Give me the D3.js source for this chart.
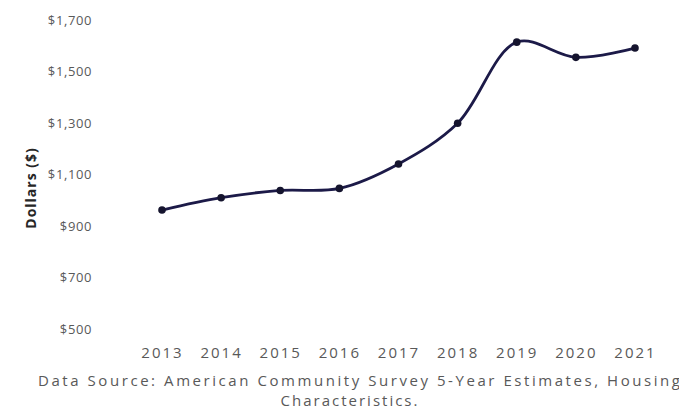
<!DOCTYPE html>
<html>
<head>
<meta charset="utf-8">
<script src="https://cdn.jsdelivr.net/npm/d3@7"></script>
<style>
	body { margin: 0; background: #fff; }
	svg { display: block; }
	.tick text { font-family: "Open Sans", sans-serif; fill: #595959; }
</style>
</head>
<body>
<svg id="chart" width="679" height="419"></svg>
<script>
// rent by year
var years = ["2013", "2014", "2015", "2016", "2017", "2018", "2019", "2020", "2021"];
var rent = [962, 1010, 1038, 1046, 1141, 1299, 1614, 1555, 1591];
var yTicks = [500, 700, 900, 1100, 1300, 1500, 1700];
var sourceLines = ["Data Source: American Community Survey 5-Year Estimates, Housing", "Characteristics."];

var margin = {top: 20, right: 44, bottom: 90, left: 162},
	width = 679, height = 419;

var svg = d3.select("#chart");

var x = d3.scalePoint()
		  .domain(years)
		  .range([margin.left, width - margin.right]);
var y = d3.scaleLinear()
		  .domain([500, 1700])
		  .range([height - margin.bottom, margin.top]);

// y axis labels, no line
var yAxis = svg.append("g")
	.attr("transform", "translate(92,0)")
	.call(d3.axisLeft(y).tickValues(yTicks).tickSize(0).tickPadding(0).tickFormat(d3.format("$,")));
yAxis.select(".domain").remove();
yAxis.selectAll("text")
	.style("font-size", "13px")
	.style("letter-spacing", "0.6px");

// x axis labels
var xAxis = svg.append("g")
	.attr("transform", "translate(0," + (height - margin.bottom + 18) + ")")
	.call(d3.axisBottom(x).tickSize(0).tickPadding(0));
xAxis.select(".domain").remove();
xAxis.selectAll("text")
	.style("font-size", "15px")
	.style("letter-spacing", "2px");

// axis title
svg.append("text")
	.attr("transform", "translate(36,188) rotate(-90)")
	.style("text-anchor", "middle")
	.style("font-family", "'Open Sans', sans-serif")
	.style("font-weight", "bold")
	.style("font-size", "14px")
	.style("letter-spacing", "1px")
	.style("fill", "#262626")
	.text("Dollars ($)");

// the line
var line = d3.line()
	.x(function(d, i) { return x(years[i]); })
	.y(function(d) { return y(d); })
	.curve(d3.curveCatmullRom.alpha(0.5));

svg.append("path")
	.datum(rent)
	.attr("fill", "none")
	.attr("stroke", "#1c1a48")
	.attr("stroke-width", 2.8)
	.attr("d", line);

svg.selectAll(".dot")
	.data(rent)
	.enter().append("circle")
	.attr("class", "dot")
	.attr("cx", function(d, i) { return x(years[i]); })
	.attr("cy", function(d) { return y(d); })
	.attr("r", 3.8)
	.attr("fill", "#15142e");

// source note, first line runs off the right edge like the original
var src = svg.selectAll(".source")
	.data(sourceLines)
	.enter().append("text")
	.attr("class", "source")
	.attr("y", function(d, i) { return 386 + i * 20; })
	.style("font-family", "'Open Sans', sans-serif")
	.style("font-size", "15px")
	.style("fill", "#595959")
	.text(function(d) { return d; });
src.filter(function(d, i) { return i == 0; })
	.attr("x", 38)
	.attr("textLength", 642)
	.attr("lengthAdjust", "spacing");
src.filter(function(d, i) { return i == 1; })
	.attr("x", 350)
	.style("text-anchor", "middle")
	.style("letter-spacing", "2px");
</script>
</body>
</html>
